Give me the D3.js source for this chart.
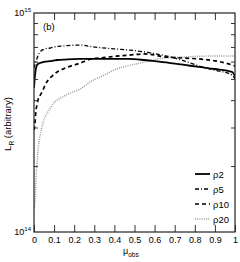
<!DOCTYPE html>
<html>
<head>
<meta charset="utf-8">
<script src="https://cdn.jsdelivr.net/npm/d3@7"></script>
<style>
  body { margin: 0; background: #fff; }
  text { font-family: "Liberation Sans", Arial, sans-serif; }
</style>
</head>
<body>
<div id="chart"></div>
<script>
var mu   = [0, 0.005, 0.01, 0.015, 0.02, 0.03, 0.045, 0.055, 0.08, 0.095, 0.115, 0.145, 0.165, 0.23, 0.295, 0.33, 0.41, 0.47, 0.55, 0.59, 0.64, 0.68, 0.75, 0.82, 0.9, 0.985, 1.0];
// values in units of 1e14
var rho2  = [4.55, 5.2, 5.6, 5.79, 5.85, 5.91, 5.97, 6.0, 6.03, 6.06, 6.10, 6.12, 6.14, 6.17, 6.17, 6.17, 6.17, 6.17, 6.10, 6.05, 5.97, 5.91, 5.79, 5.67, 5.55, 5.38, 5.14];
var rho5  = [5.6, 5.85, 6.0, 6.2, 6.4, 6.64, 6.8, 6.86, 6.92, 6.98, 7.03, 7.07, 7.1, 7.14, 7.0, 6.95, 6.85, 6.78, 6.64, 6.55, 6.42, 6.30, 6.03, 5.73, 5.48, 5.21, 5.0];
var rho10 = [2.92, 3.15, 3.61, 3.8, 4.01, 4.2, 4.45, 4.69, 5.05, 5.21, 5.38, 5.55, 5.65, 5.91, 6.2, 6.24, 6.35, 6.42, 6.5, 6.45, 6.32, 6.28, 6.22, 6.17, 6.05, 5.79, 5.73];
var rho20 = [1.26, 1.40, 1.75, 2.05, 2.35, 2.75, 3.15, 3.35, 3.65, 3.85, 4.0, 4.15, 4.25, 4.5, 4.94, 5.1, 5.55, 5.75, 5.97, 6.1, 6.22, 6.26, 6.30, 6.34, 6.37, 6.37, 6.37];
var seriesNames = ["\u03c12", "\u03c15", "\u03c110", "\u03c120"];
var xTicks = [0, 0.1, 0.2, 0.3, 0.4, 0.5, 0.6, 0.7, 0.8, 0.9, 1];
var yMinor = [2e14, 3e14, 4e14, 5e14, 6e14, 7e14, 8e14, 9e14];

var width = 240, height = 262;
var mLeft = 34, mRight = 235, mTop = 13, mBottom = 232;

var svg = d3.select("#chart").append("svg")
  .attr("width", width)
  .attr("height", height);

var x = d3.scaleLinear().domain([0, 1]).range([mLeft, mRight]);
var y = d3.scaleLog().domain([1e14, 1e15]).range([mBottom, mTop]);

var styles = [
  { stroke: "#000", width: 1.8, dash: null },
  { stroke: "#000", width: 1.3, dash: "4,2,1,2" },
  { stroke: "#000", width: 1.7, dash: "4,3" },
  { stroke: "#9a9a9a", width: 1.5, dash: "1,1.2" }
];
var allSeries = [rho2, rho5, rho10, rho20];

var line = d3.line()
  .x(function(d) { return x(d[0]); })
  .y(function(d) { return y(d[1] * 1e14); })
  .curve(d3.curveMonotoneX);

var plot = svg.append("g");
plot.append("defs").append("clipPath").attr("id", "clip")
  .append("rect").attr("x", mLeft).attr("y", mTop).attr("width", mRight - mLeft).attr("height", mBottom - mTop);

// draw rho20 first so black lines sit on top
[3, 2, 1, 0].forEach(function(i) {
  var pts = mu.map(function(m, j) { return [m, allSeries[i][j]]; });
  plot.append("path")
    .attr("clip-path", "url(#clip)")
    .attr("d", line(pts))
    .attr("fill", "none")
    .attr("stroke", styles[i].stroke)
    .attr("stroke-width", styles[i].width)
    .attr("stroke-dasharray", styles[i].dash);
});

// axes: ticks pointing inward
var axisStyle = function(g) {
  g.select(".domain").remove();
  g.selectAll(".tick line").attr("stroke", "#333").attr("stroke-width", 1);
};

svg.append("g")
  .attr("transform", "translate(0," + mBottom + ")")
  .call(d3.axisBottom(x).tickValues(xTicks).tickSize(-7).tickPadding(5)
    .tickFormat(function(d) { return d3.format("~g")(d); }))
  .call(axisStyle)
  .call(function(g) {
    g.selectAll("text").attr("font-size", 9).attr("fill", "#000")
      .attr("font-family", "Liberation Sans, Arial, sans-serif");
  });

svg.append("g")
  .attr("transform", "translate(0," + mTop + ")")
  .call(d3.axisTop(x).tickValues(xTicks.slice(1, -1)).tickSize(-7).tickFormat(""))
  .call(axisStyle);

svg.append("g")
  .attr("transform", "translate(" + mLeft + ",0)")
  .call(d3.axisLeft(y).tickValues(yMinor).tickSize(-4).tickFormat(""))
  .call(axisStyle);

svg.append("g")
  .attr("transform", "translate(" + mRight + ",0)")
  .call(d3.axisRight(y).tickValues(yMinor).tickSize(-4).tickFormat(""))
  .call(axisStyle);

// frame
svg.append("rect")
  .attr("x", mLeft).attr("y", mTop)
  .attr("width", mRight - mLeft).attr("height", mBottom - mTop)
  .attr("fill", "none").attr("stroke", "#222").attr("stroke-width", 1.2);

// decade labels
function decade(yy, exp) {
  var t = svg.append("text").attr("x", 31).attr("y", yy).attr("text-anchor", "end")
    .attr("font-size", 9);
  t.append("tspan").text("10");
  t.append("tspan").attr("font-size", 6).attr("dy", -4).text(exp);
}
decade(y(1e15) + 3, "15");
decade(y(1e14) + 3, "14");

// panel label
svg.append("text").attr("x", 43).attr("y", 30).attr("font-size", 9.5).text("(b)");

// axis titles
var xt = svg.append("text").attr("x", 123).attr("y", 254).attr("font-size", 9);
xt.append("tspan").text("\u03bc");
xt.append("tspan").attr("font-size", 6.5).attr("dy", 2.5).text("obs");

var yt = svg.append("text")
  .attr("transform", "translate(11,124) rotate(-90)")
  .attr("text-anchor", "middle")
  .attr("font-size", 9.5);
yt.append("tspan").text("L");
yt.append("tspan").attr("font-size", 6.5).attr("dy", 2.5).text("R");
yt.append("tspan").attr("dy", -2.5).text(" (arbitrary)");

// legend
var legend = svg.append("g");
var legY = [174, 189, 204, 219];
seriesNames.forEach(function(name, i) {
  legend.append("line")
    .attr("x1", 195).attr("x2", 210)
    .attr("y1", legY[i]).attr("y2", legY[i])
    .attr("stroke", styles[i].stroke)
    .attr("stroke-width", styles[i].width)
    .attr("stroke-dasharray", styles[i].dash);
  legend.append("text")
    .attr("x", 213).attr("y", legY[i] + 3.5)
    .attr("font-size", 9.5)
    .text(name);
});
</script>
</body>
</html>
